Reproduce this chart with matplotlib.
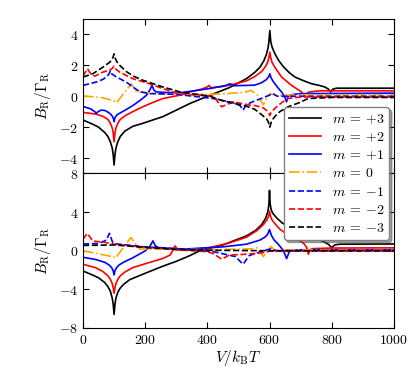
import matplotlib
matplotlib.use("Agg")
import matplotlib.pyplot as plt
from matplotlib.ticker import FuncFormatter

plt.rcParams['mathtext.fontset'] = 'cm'
plt.rcParams['font.family'] = 'serif'
plt.rcParams['font.serif'] = ['DejaVu Serif']
plt.rcParams['font.size'] = 10

labels = [r'$m\:=\:+3$', r'$m\:=\:+2$', r'$m\:=\:+1$', r'$m\:=\:0$',
          r'$m\:=\:-1$', r'$m\:=\:-2$', r'$m\:=\:-3$']
colors = ['black', 'red', 'blue', 'orange', 'blue', 'red', 'black']
styles = ['-', '-', '-', '-.', '--', '--', '--']

# ---- upper panel, V values and B_R/Gamma_R ----
top_v_p3 = [0, 30, 50, 70, 80, 88, 94, 97, 100, 103, 106, 112, 120, 135, 160, 193, 257, 300,
            344, 408, 470, 527, 553, 570, 582, 590, 595, 598, 601, 604, 608, 613, 620, 630,
            645, 665, 682, 710, 735, 760, 778, 790, 797, 803, 815, 1000]
top_b_p3 = [-1.54, -1.8, -2.0, -2.35, -2.6, -2.95, -3.35, -3.75, -4.45, -3.75, -3.35, -2.95,
            -2.6, -2.25, -1.95, -1.75, -1.32, -0.9, -0.47, 0.06, 0.55, 1.15, 1.55, 1.9, 2.3,
            2.7, 3.1, 3.5, 4.25, 3.55, 3.2, 2.95, 2.65, 2.3, 1.9, 1.5, 1.24, 1.0, 0.81, 0.7,
            0.6, 0.45, 0.28, 0.45, 0.52, 0.52]

top_v_p2 = [0, 40, 64, 80, 88, 94, 97, 100, 103, 106, 112, 120, 139, 165, 193, 225, 257, 312,
            344, 380, 400, 405, 412, 440, 473, 527, 553, 575, 588, 595, 598, 601, 604, 608,
            617, 639, 671, 703, 710, 714, 718, 728, 760, 1000]
top_b_p2 = [-1.05, -1.15, -1.3, -1.5, -1.75, -2.05, -2.35, -2.95, -2.35, -2.05, -1.75, -1.5,
            -1.22, -0.95, -0.68, -0.4, -0.15, 0.07, 0.28, 0.45, 0.6, 0.7, 0.55, 0.6, 0.72,
            1.0, 1.28, 1.6, 1.95, 2.25, 2.5, 2.85, 2.5, 2.2, 1.88, 1.24, 0.7, 0.28, 0.1, 0.0,
            0.15, 0.28, 0.35, 0.35]

top_v_p1 = [0, 25, 38, 43, 48, 58, 70, 82, 90, 95, 98, 100, 102, 105, 110, 118, 140, 162,
            185, 204, 215, 222, 228, 235, 260, 312, 408, 460, 473, 485, 526, 553, 575, 590,
            597, 601, 605, 612, 625, 640, 650, 655, 660, 670, 700, 1000]
top_b_p1 = [-0.66, -0.82, -1.0, -1.12, -1.0, -0.9, -0.92, -1.05, -1.18, -1.32, -1.45, -1.64,
            -1.45, -1.32, -1.2, -1.1, -0.85, -0.58, -0.25, 0.06, 0.4, 0.72, 0.4, 0.28, 0.25,
            0.22, 0.5, 0.7, 0.81, 0.68, 0.7, 0.72, 0.88, 1.08, 1.25, 1.45, 1.2, 0.95, 0.6,
            0.25, -0.1, -0.36, 0.0, 0.1, 0.17, 0.2]

top_v_0 = [0, 64, 100, 108, 155, 173, 257, 350, 450, 520, 540, 560, 580, 592, 601, 620, 700,
           1000]
top_b_0 = [0.02, -0.1, -0.3, -0.42, 0.8, 0.28, 0.15, 0.1, 0.15, 0.25, 0.38, 0.1, -0.55, -0.1,
           0.17, 0.05, 0.1, 0.1]

top_v_m1 = [0, 43, 65, 78, 84, 88, 92, 100, 107, 139, 160, 182, 214, 260, 312, 418, 480, 505,
            515, 525, 547, 580, 611, 625, 1000]
top_b_m1 = [0.7, 0.92, 1.1, 1.3, 1.45, 1.65, 1.45, 1.35, 1.25, 0.92, 0.6, 0.3, 0.17, 0.15,
            0.1, -0.15, -0.4, -0.6, -0.9, -0.55, -0.35, -0.1, 0.17, 0.0, 0.0]

top_v_m2 = [0, 14, 25, 38, 64, 86, 94, 100, 106, 118, 161, 214, 257, 312, 420, 446, 473, 483,
            537, 553, 580, 592, 597, 601, 605, 610, 617, 640, 660, 700, 1000]
top_b_m2 = [1.3, 1.78, 1.45, 1.3, 1.56, 1.7, 1.8, 1.95, 1.75, 1.56, 1.13, 0.81, 0.49, 0.15,
            0.0, -0.68, -0.45, -0.36, -0.58, -0.6, -0.75, -0.95, -1.05, -1.25, -1.05, -0.95,
            -0.79, -0.4, -0.15, -0.05, -0.05]

top_v_m3 = [0, 32, 64, 86, 94, 97, 100, 103, 107, 113, 139, 162, 193, 257, 312, 408, 450,
            526, 553, 575, 590, 596, 601, 606, 612, 620, 633, 660, 698, 724, 800, 1000]
top_b_m3 = [1.24, 1.46, 1.88, 2.2, 2.4, 2.55, 2.74, 2.5, 2.3, 2.1, 1.6, 1.3, 1.03, 0.6, 0.28,
            0.0, -0.3, -0.65, -0.85, -1.2, -1.45, -1.65, -2.0, -1.65, -1.45, -1.25, -1.0,
            -0.68, -0.4, -0.15, -0.08, -0.08]

# ---- lower panel ----
bot_v_p3 = [0, 30, 50, 70, 80, 88, 94, 97, 100, 103, 106, 112, 120, 130, 150, 180, 205, 257,
            300, 344, 376, 450, 526, 555, 575, 588, 595, 598, 600, 602, 605, 610, 623, 640,
            676, 730, 770, 789, 800, 810, 826, 1000]
bot_b_p3 = [-2.1, -2.5, -2.8, -3.3, -3.7, -4.2, -4.9, -5.5, -6.6, -5.5, -4.9, -4.3, -3.85,
            -3.5, -3.0, -2.6, -2.27, -1.6, -1.1, -0.5, 0.0, 0.6, 1.54, 2.1, 2.7, 3.4, 4.1,
            4.8, 6.25, 4.9, 4.3, 3.9, 3.4, 2.9, 2.24, 1.54, 1.0, 0.68, 0.33, 0.6, 0.68, 0.7]

bot_v_p2 = [0, 40, 64, 80, 88, 94, 97, 100, 103, 106, 112, 120, 135, 160, 205, 257, 280, 285,
            296, 305, 320, 344, 408, 470, 526, 560, 580, 592, 597, 600, 603, 608, 620, 633,
            665, 698, 712, 720, 725, 730, 740, 800, 1000]
bot_b_p2 = [-1.4, -1.75, -2.15, -2.6, -2.95, -3.4, -3.8, -4.4, -3.8, -3.4, -2.95, -2.6, -2.2,
            -1.75, -1.3, -0.8, -0.45, -0.2, 0.5, 0.1, 0.05, 0.1, 0.33, 0.8, 1.4, 2.1, 2.7,
            3.2, 3.6, 4.1, 3.6, 3.2, 2.7, 2.24, 1.5, 1.02, 0.7, 0.3, -0.36, 0.1, 0.22, 0.28,
            0.3]

bot_v_p1 = [0, 40, 70, 85, 92, 97, 100, 103, 108, 115, 130, 162, 201, 215, 225, 232, 242,
            312, 450, 526, 569, 585, 594, 600, 606, 615, 628, 645, 655, 665, 700, 1000]
bot_b_p1 = [-0.68, -0.9, -1.2, -1.5, -1.75, -2.05, -2.5, -2.05, -1.75, -1.5, -1.2, -0.7, 0.0,
            0.45, 1.02, 0.55, 0.33, 0.15, 0.4, 0.68, 1.1, 1.4, 1.7, 2.2, 1.6, 1.1, 0.68, 0.0,
            -0.81, 0.0, 0.1, 0.1]

bot_v_0 = [0, 55, 100, 105, 154, 183, 257, 400, 540, 560, 580, 592, 605, 615, 1000]
bot_b_0 = [0.0, -0.36, -0.64, -0.75, 1.37, 0.15, 0.2, 0.1, 0.2, 0.3, -0.6, -0.1, 0.44, 0.1,
           0.05]

bot_v_m1 = [0, 50, 75, 85, 95, 110, 201, 312, 420, 490, 515, 535, 580, 605, 620, 1000]
bot_b_m1 = [0.7, 0.75, 1.1, 1.8, 0.9, 0.7, 0.4, 0.2, -0.1, -0.6, -1.4, -0.5, 0.0, 0.2, 0.0,
            0.0]

bot_v_m2 = [0, 14, 32, 64, 100, 201, 300, 400, 420, 446, 470, 526, 580, 600, 1000]
bot_b_m2 = [1.2, 1.79, 1.0, 0.9, 0.68, 0.33, 0.1, -0.1, -0.3, -0.88, -0.45, -0.36, -0.2,
            -0.05, -0.05]

bot_v_m3 = [0, 100, 200, 300, 400, 600, 1000]
bot_b_m3 = [0.55, 0.6, 0.35, 0.15, 0.05, 0.0, 0.0]

top_curves = [(top_v_p3, top_b_p3), (top_v_p2, top_b_p2), (top_v_p1, top_b_p1),
              (top_v_0, top_b_0), (top_v_m1, top_b_m1), (top_v_m2, top_b_m2),
              (top_v_m3, top_b_m3)]
bot_curves = [(bot_v_p3, bot_b_p3), (bot_v_p2, bot_b_p2), (bot_v_p1, bot_b_p1),
              (bot_v_0, bot_b_0), (bot_v_m1, bot_b_m1), (bot_v_m2, bot_b_m2),
              (bot_v_m3, bot_b_m3)]


def style_axes(ax):
    ax.tick_params(direction='in', top=True, right=True, length=4, labelsize=10)
    ax.yaxis.set_major_formatter(FuncFormatter(lambda v, p: r'$%d$' % v))
    ax.xaxis.set_major_formatter(FuncFormatter(lambda v, p: r'$%d$' % v))
    ax.set_xlim(0, 1000)
    ax.set_xticks([0, 200, 400, 600, 800, 1000])


fig = plt.figure(figsize=(4.15, 3.87), dpi=100)
ax_top = fig.add_axes([0.2, 0.5517, 0.749, 0.3993])
ax_bot = fig.add_axes([0.2, 0.1525, 0.749, 0.3992])

lines = []
for (v, b), c, s, lab in zip(top_curves, colors, styles, labels):
    ln, = ax_top.plot(v, b, color=c, ls=s, lw=1.2, label=lab)
    lines.append(ln)
for (v, b), c, s in zip(bot_curves, colors, styles):
    ax_bot.plot(v, b, color=c, ls=s, lw=1.2)

style_axes(ax_top)
ax_top.set_ylim(-5, 5)
ax_top.set_yticks([-4, -2, 0, 2, 4])
ax_top.tick_params(labelbottom=False)
ax_top.set_ylabel(r'$B_\mathrm{R}/\Gamma_\mathrm{R}$', fontsize=11)

style_axes(ax_bot)
ax_bot.set_ylim(-8, 8)
ax_bot.set_yticks([-8, -4, 0, 4, 8])
ax_bot.set_ylabel(r'$B_\mathrm{R}/\Gamma_\mathrm{R}$', fontsize=11)
ax_bot.set_xlabel(r'$V/k_\mathrm{B}T$', fontsize=11, labelpad=1)

fig.legend(lines, labels, loc='upper right', bbox_to_anchor=(389 / 415, 1 - 107 / 387),
           borderaxespad=0, fancybox=True, shadow=True, framealpha=1, edgecolor='0.5',
           handlelength=2.3, labelspacing=0.3, borderpad=0.35, fontsize=10)

fig.savefig('out.png', dpi=100)
